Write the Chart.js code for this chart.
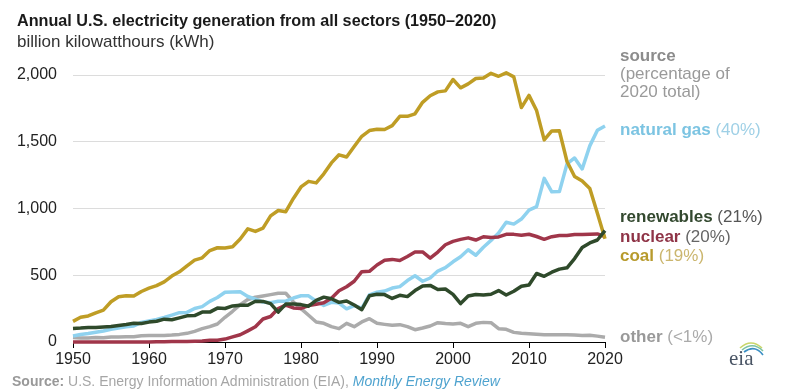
<!DOCTYPE html>
<html>
<head>
<meta charset="utf-8">
<script src="https://cdn.jsdelivr.net/npm/chart.js@4"></script>
<style>
  html, body { margin: 0; padding: 0; background: #fff; }
  body { width: 787px; height: 389px; position: relative; overflow: hidden; font-family: "Liberation Sans", Arial, sans-serif; }
  #wrap { position: absolute; left: 0; top: 0; width: 787px; height: 389px; }
  .txt { position: absolute; white-space: nowrap; }
  .title { left: 17px; top: 11px; font-size: 16.2px; font-weight: bold; color: #1a1a1a; }
  .sub { left: 17px; top: 32px; font-size: 17px; color: #333; }
  .lbl { left: 620px; font-size: 17px; line-height: 18px; }
  .lbl b { font-weight: bold; }
  .foot { left: 12px; top: 373px; font-size: 14px; color: #a6a6a6; }
  .foot b { color: #999; }
  .foot i { color: #4fa3cf; }
  #logo { position: absolute; left: 724px; top: 336px; }
</style>
</head>
<body>
<div id="wrap"><canvas id="chart" width="787" height="389"></canvas></div>

<div class="txt title">Annual U.S. electricity generation from all sectors (1950–2020)</div>
<div class="txt sub">billion kilowatthours (kWh)</div>

<div class="txt lbl" style="top:47px;color:#8c8c8c"><b>source</b></div>
<div class="txt lbl" style="top:65px;color:#9a9a9a">(percentage of</div>
<div class="txt lbl" style="top:83px;color:#9a9a9a">2020 total)</div>
<div class="txt lbl" style="top:121px;color:#9fd0e6"><b style="color:#7cc4e2">natural gas</b> (40%)</div>
<div class="txt lbl" style="top:208px;color:#555"><b style="color:#33492f">renewables</b> (21%)</div>
<div class="txt lbl" style="top:228px;color:#666"><b style="color:#8f3447">nuclear</b> (20%)</div>
<div class="txt lbl" style="top:247px;color:#cbb66e"><b style="color:#b79a2c">coal</b> (19%)</div>
<div class="txt lbl" style="top:328px;color:#aaa"><b style="color:#999">other</b> (&lt;1%)</div>

<div class="txt foot"><b>Source:</b> U.S. Energy Information Administration (EIA), <i>Monthly Energy Review</i></div>

<svg id="logo" width="44" height="34" viewBox="0 0 44 34">
  <path d="M16 12 Q27 2 38 12" stroke="#c9d66a" stroke-width="1.6" fill="none"/>
  <path d="M18 14 Q29 5 39 15" stroke="#7cc3a0" stroke-width="1.6" fill="none"/>
  <path d="M20 16 Q31 8 39 19" stroke="#3b8fc4" stroke-width="1.6" fill="none"/>
  <text x="5" y="29" font-family="Liberation Serif, serif" font-size="21" fill="#4a5565">eia</text>
</svg>

<script>
// years 1950..2020
const years = Array.from({ length: 71 }, (_, i) => 1950 + i);

// billion kWh
const coal = [
  154.5, 185.2, 195.4, 218.8, 239.1, 301.4, 338.5, 346.4, 344.4, 378.4,
  403.1, 421.9, 450.2, 493.9, 526.2, 570.9, 613.5, 630.5, 684.9, 706.0,
  704.4, 713.1, 771.1, 847.7, 828.4, 852.8, 944.4, 985.2, 975.7, 1075.0,
  1161.6, 1203.2, 1192.0, 1259.4, 1341.7, 1402.1, 1385.8, 1463.8, 1540.7, 1583.6,
  1594.0, 1592.0, 1621.2, 1690.1, 1690.7, 1709.4, 1795.2, 1845.0, 1873.5, 1881.1,
  1966.3, 1903.9, 1933.1, 1973.7, 1978.3, 2012.9, 1990.5, 2016.5, 1985.8, 1755.9,
  1847.3, 1733.4, 1514.0, 1581.1, 1581.7, 1352.4, 1239.1, 1205.8, 1149.5, 965.0,
  773.4
];
const naturalGas = [
  44.6, 56.7, 64.0, 72.6, 82.4, 95.3, 104.3, 114.4, 120.3, 146.6,
  158.0, 169.3, 184.3, 201.6, 220.0, 221.6, 251.2, 264.8, 304.4, 333.3,
  372.9, 374.0, 375.7, 340.9, 320.1, 299.8, 294.6, 305.5, 305.4, 329.5,
  346.2, 345.8, 305.3, 274.1, 297.4, 291.9, 248.5, 272.6, 252.8, 352.6,
  372.8, 381.6, 404.1, 414.9, 460.2, 496.1, 455.1, 479.4, 531.3, 556.4,
  601.0, 639.1, 691.0, 649.9, 710.1, 761.0, 816.4, 896.6, 883.0, 921.0,
  987.7, 1013.7, 1225.9, 1124.8, 1126.6, 1333.5, 1378.3, 1296.4, 1469.1, 1585.8,
  1617.6
];
const nuclear = [
  0, 0, 0, 0, 0, 0, 0, 0.01, 0.2, 0.19,
  0.5, 1.7, 2.3, 3.2, 3.3, 3.7, 5.5, 7.7, 12.5, 13.9,
  21.8, 38.1, 54.1, 83.5, 114.0, 172.5, 191.1, 250.9, 276.4, 255.2,
  251.1, 272.7, 282.8, 293.7, 327.6, 383.7, 414.0, 455.3, 527.0, 529.4,
  576.9, 612.6, 618.8, 610.3, 640.4, 673.4, 674.7, 628.6, 673.7, 728.3,
  753.9, 768.8, 780.1, 763.7, 788.5, 782.0, 787.2, 806.4, 806.2, 798.9,
  807.0, 790.2, 769.3, 789.0, 797.2, 797.2, 805.7, 805.0, 807.1, 809.4,
  789.9
];
const renewables = [
  101, 104, 109, 109, 112, 116, 124, 131, 141, 139,
  149, 155, 171, 167, 181, 196, 198, 224, 224, 254,
  251, 270, 276, 275, 305, 304, 287, 224, 284, 284,
  280, 268, 312, 336, 324, 297, 307, 277, 242, 346,
  357, 355, 326, 350, 340, 385, 420, 424, 393, 397,
  357, 288, 344, 356, 352, 358, 385, 352, 380, 418,
  427, 513, 492, 523, 546, 556, 625, 708, 742, 764,
  834
];
const other = [
  34, 30, 30, 33, 31, 37, 38, 40, 40, 47,
  48, 49, 49, 52, 57, 65, 80, 100, 115, 135,
  185, 230, 280, 318, 335, 345, 355, 365, 365, 300,
  250, 200, 150, 140, 115, 100, 140, 115, 150, 175,
  140, 132, 125, 130, 115, 92, 105, 120, 145, 138,
  135, 140, 115, 140, 147, 145, 100, 95, 72, 65,
  62, 58, 54, 55, 55, 54, 52, 48, 50, 44,
  36
];

const yTicks = [0, 500, 1000, 1500, 2000];
const xTicks = [1950, 1960, 1970, 1980, 1990, 2000, 2010, 2020];

function pts(vals) { return years.map((y, i) => ({ x: y, y: vals[i] })); }
function line(vals, color) {
  return {
    data: pts(vals), borderColor: color, borderWidth: 3.5, pointRadius: 0,
    tension: 0, fill: false, clip: false, borderJoinStyle: 'round', borderCapStyle: 'butt'
  };
}

new Chart(document.getElementById('chart'), {
  type: 'line',
  data: {
    // first dataset is drawn on top
    datasets: [
      line(renewables, '#2f4a2b'),
      line(coal, '#bf9d25'),
      line(nuclear, '#a0364a'),
      line(naturalGas, '#8fd2ef'),
      line(other, '#ababab')
    ]
  },
  options: {
    responsive: false,
    animation: false,
    devicePixelRatio: 1,
    layout: { padding: { top: 75, right: 182, left: 0, bottom: 0 } },
    plugins: { legend: { display: false }, tooltip: { enabled: false } },
    scales: {
      x: {
        type: 'linear', min: 1950, max: 2020,
        afterBuildTicks: s => { s.ticks = xTicks.map(v => ({ value: v })); },
        afterFit: s => { s.height = 47; },
        ticks: { color: '#222', font: { size: 16, family: 'Liberation Sans' }, padding: 2, maxRotation: 0, callback: v => String(v) },
        grid: { drawOnChartArea: false, drawTicks: true, tickLength: 6, color: '#000', lineWidth: 1 },
        border: { color: '#000', width: 1 }
      },
      y: {
        min: 0, max: 2000,
        afterBuildTicks: s => { s.ticks = yTicks.map(v => ({ value: v })); },
        afterFit: s => { s.width = 73; },
        ticks: { color: '#222', font: { size: 16, family: 'Liberation Sans' }, padding: 16, callback: v => v.toLocaleString('en-US') },
        grid: { color: '#dcdcdc', lineWidth: 1, drawTicks: false },
        border: { display: false }
      }
    }
  }
});
</script>
</body>
</html>
